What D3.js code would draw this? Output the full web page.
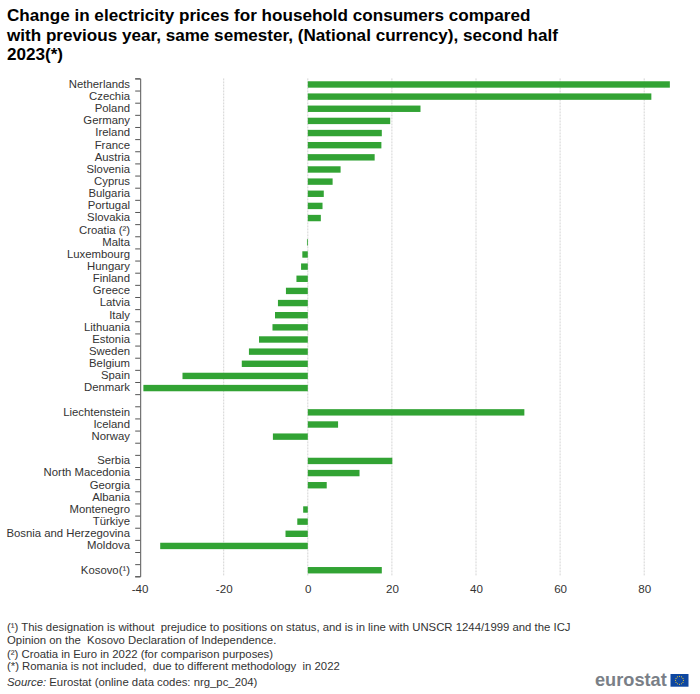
<!DOCTYPE html>
<html>
<head>
<meta charset="utf-8">
<script src="https://cdn.jsdelivr.net/npm/d3@7"></script>
<style>
  body { margin: 0; background: #fff; }
  text { font-family: "Liberation Sans", Arial, sans-serif; white-space: pre; }
</style>
</head>
<body>
<svg id="chart" width="700" height="694"></svg>
<script>
// null = gap row between country groups
var all_data = [
    ["Netherlands", 86.1], ["Czechia", 81.7], ["Poland", 26.8], ["Germany", 19.6], ["Ireland", 17.6],
    ["France", 17.5], ["Austria", 15.9], ["Slovenia", 7.8], ["Cyprus", 5.9], ["Bulgaria", 3.8],
    ["Portugal", 3.5], ["Slovakia", 3.1], ["Croatia (²)", 0], ["Malta", -0.2], ["Luxembourg", -1.3],
    ["Hungary", -1.6], ["Finland", -2.7], ["Greece", -5.2], ["Latvia", -7.1], ["Italy", -7.8],
    ["Lithuania", -8.4], ["Estonia", -11.6], ["Sweden", -14], ["Belgium", -15.7], ["Spain", -29.8],
    ["Denmark", -39.1], null,
    ["Liechtenstein", 51.5], ["Iceland", 7.2], ["Norway", -8.3], null,
    ["Serbia", 20.1], ["North Macedonia", 12.3], ["Georgia", 4.5], ["Albania", 0], ["Montenegro", -1.1],
    ["Türkiye", -2.5], ["Bosnia and Herzegovina", -5.3], ["Moldova", -35.1], null,
    ["Kosovo(¹)", 17.6]
];

var svg = d3.select('#chart');

var margin = {top:78.4, left:139.6, bottom:117.7};
var height = 694;
var plotBottom = height - margin.bottom;

var xScale = d3.scaleLinear().domain([-40, 90]).range([margin.left, margin.left + 130 * 4.205]);
var rows = d3.range(all_data.length);
var yScale = d3.scaleBand().domain(rows).range([margin.top, plotBottom]);
var edgeScale = d3.scaleLinear().domain([0, rows.length]).range([margin.top, plotBottom]);
var filled = rows.filter(function(i) { return all_data[i]; });

// title
var title = ["Change in electricity prices for household consumers compared",
             "with previous year, same semester, (National currency), second half",
             "2023(*)"];
svg.append("g").selectAll("text").data(title).enter().append("text")
    .attr("x", 7).attr("y", function(d, i) { return 21 + i * 19.6; })
    .style("font-size", "17.1px").style("font-weight", "bold").style("fill", "#000")
    .text(function(d) { return d; });

// gridlines
svg.append("g").selectAll("line").data([-20, 0, 20, 40, 60, 80]).enter().append("line")
    .attr("x1", xScale).attr("x2", xScale)
    .attr("y1", margin.top).attr("y2", plotBottom)
    .attr("stroke", "#d4d4d4").attr("stroke-dasharray", "2,1");

// bars
var barHeight = 6.4;
svg.append("g").selectAll("rect").data(filled).enter().append("rect")
    .attr("x", function(i) { return xScale(Math.min(0, all_data[i][1])); })
    .attr("width", function(i) { return Math.abs(xScale(all_data[i][1]) - xScale(0)); })
    .attr("y", function(i) { return yScale(i) + (yScale.bandwidth() - barHeight) / 2; })
    .attr("height", barHeight)
    .attr("fill", "#32a334");

// y axis: ticks sit on the band edges, labels in the band centres
var yTicks = d3.axisLeft(edgeScale).tickValues(d3.range(rows.length + 1)).tickSize(5).tickFormat("");
svg.append("g").attr("transform", "translate(140.2,0)").call(yTicks)
    .selectAll("path,line").attr("stroke", "#555");

var yLabels = d3.axisLeft(yScale).tickSize(0).tickPadding(0)
    .tickFormat(function(i) { return all_data[i] ? all_data[i][0] : ""; });
var yLabelGroup = svg.append("g").attr("transform", "translate(130,0.6)").call(yLabels);
yLabelGroup.select(".domain").remove();
yLabelGroup.selectAll("text")
    .attr("dy", "0.24em")
    .style("font-size", "11.35px").style("fill", "#333");

// x axis labels only
var xAxis = d3.axisBottom(xScale).tickValues(d3.range(-40, 81, 20)).tickSize(0).tickPadding(0)
    .tickFormat(function(d) { return String(d); });
var xGroup = svg.append("g").attr("transform", "translate(0," + (plotBottom + 8.3) + ")").call(xAxis);
xGroup.select(".domain").remove();
xGroup.selectAll("text").style("font-size", "11.6px").style("fill", "#333");

// footnotes
var notes = [
    [630.5, "(¹) This designation is without  prejudice to positions on status, and is in line with UNSCR 1244/1999 and the ICJ"],
    [643.5, "Opinion on the  Kosovo Declaration of Independence."],
    [657.5, "(²) Croatia in Euro in 2022 (for comparison purposes)"],
    [670, "(*) Romania is not included,  due to different methodology  in 2022"]
];
svg.append("g").selectAll("text").data(notes).enter().append("text")
    .attr("x", 7).attr("y", function(d) { return d[0]; })
    .style("font-size", "11.35px").style("fill", "#333")
    .text(function(d) { return d[1]; });

var source = svg.append("text").attr("x", 7).attr("y", 685.5).style("font-size", "11.35px").style("fill", "#333");
source.append("tspan").style("font-style", "italic").text("Source:");
source.append("tspan").text(" Eurostat (online data codes: nrg_pc_204)");

// eurostat logo
svg.append("text").attr("x", 595).attr("y", 686)
    .style("font-size", "18.2px").style("font-weight", "bold").style("fill", "#7a7f87")
    .text("eurostat");
svg.append("rect").attr("x", 670.5).attr("y", 674).attr("width", 18).attr("height", 12.7).attr("fill", "#0e47a1");
var stars = d3.range(12).map(function(i) { return i * Math.PI / 6; });
svg.append("g").selectAll("circle").data(stars).enter().append("circle")
    .attr("cx", function(a) { return 679.5 + 4 * Math.cos(a); })
    .attr("cy", function(a) { return 680.3 + 4 * Math.sin(a); })
    .attr("r", 0.6).attr("fill", "#e8c832");
</script>
</body>
</html>
